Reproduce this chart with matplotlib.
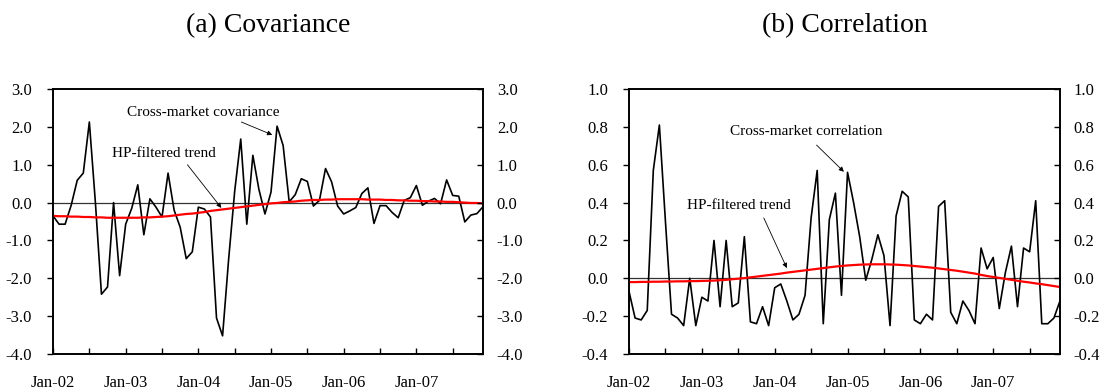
import numpy as np
import matplotlib
matplotlib.use("Agg")
import matplotlib.pyplot as plt

plt.rcParams['font.family'] = ['Liberation Serif', 'DejaVu Serif']
plt.rcParams['axes.unicode_minus'] = False

# 월별 데이터 (Jan-02 ~ Dec-07, 72개월)
months = np.arange(72)
year_labels = ["Jan-02", "Jan-03", "Jan-04", "Jan-05", "Jan-06", "Jan-07"]

covariance = [
    -0.35, -0.57, -0.57, -0.07, 0.59, 0.78, 2.13, 0.00, -2.42, -2.23, 0.00, -1.93,
    -0.57, -0.15, 0.47, -0.85, 0.10, -0.12, -0.38, 0.78, -0.20, -0.65, -1.48, -1.30,
    -0.12, -0.17, -0.38, -3.05, -3.52, -1.50, 0.30, 1.68, -0.57, 1.25, 0.35, -0.30,
    0.28, 2.02, 1.51, 0.02, 0.21, 0.63, 0.56, -0.09, 0.06, 0.90, 0.55, -0.09,
    -0.30, -0.22, -0.13, 0.24, 0.39, -0.55, -0.08, -0.08, -0.26, -0.40, 0.06, 0.13,
    0.45, -0.07, 0.04, 0.11, -0.03, 0.60, 0.19, 0.17, -0.51, -0.33, -0.29, -0.11,
]
cov_trend = [
    -0.35, -0.36, -0.36, -0.37, -0.37, -0.38, -0.38, -0.39, -0.39, -0.40, -0.40, -0.40,
    -0.40, -0.40, -0.40, -0.39, -0.39, -0.38, -0.37, -0.36, -0.34, -0.32, -0.30, -0.29,
    -0.27, -0.25, -0.22, -0.20, -0.18, -0.16, -0.14, -0.12, -0.10, -0.08, -0.06, -0.04,
    -0.02, -0.01, 0.01, 0.02, 0.03, 0.05, 0.06, 0.07, 0.07, 0.08, 0.08, 0.09,
    0.09, 0.09, 0.09, 0.09, 0.08, 0.08, 0.08, 0.07, 0.07, 0.06, 0.06, 0.05,
    0.05, 0.04, 0.04, 0.03, 0.03, 0.02, 0.02, 0.01, 0.00, -0.01, -0.01, -0.02,
]

correlation = [
    -0.07, -0.21, -0.22, -0.17, 0.57, 0.81, 0.30, -0.19, -0.21, -0.25, 0.00, -0.25,
    -0.10, -0.12, 0.20, -0.15, 0.20, -0.15, -0.13, 0.22, -0.23, -0.24, -0.15, -0.25,
    -0.05, -0.03, -0.12, -0.22, -0.19, -0.09, 0.32, 0.57, -0.24, 0.31, 0.45, -0.09,
    0.56, 0.40, 0.22, -0.01, 0.10, 0.23, 0.12, -0.25, 0.33, 0.46, 0.43, -0.22,
    -0.24, -0.19, -0.22, 0.38, 0.41, -0.18, -0.24, -0.12, -0.17, -0.24, 0.16, 0.05,
    0.11, -0.16, 0.03, 0.17, -0.15, 0.16, 0.14, 0.41, -0.24, -0.24, -0.21, -0.12,
]
corr_trend = [
    -0.020, -0.020, -0.019, -0.019, -0.018, -0.018, -0.017, -0.017, -0.016, -0.016, -0.015, -0.015,
    -0.014, -0.013, -0.012, -0.010, -0.008, -0.005, -0.002, 0.001, 0.005, 0.009, 0.013, 0.017,
    0.021, 0.025, 0.030, 0.034, 0.038, 0.042, 0.046, 0.050, 0.054, 0.058, 0.062, 0.065,
    0.068, 0.070, 0.072, 0.073, 0.074, 0.074, 0.074, 0.073, 0.072, 0.070, 0.068, 0.065,
    0.062, 0.059, 0.056, 0.052, 0.048, 0.044, 0.040, 0.035, 0.030, 0.025, 0.018, 0.012,
    0.007, 0.002, -0.003, -0.008, -0.013, -0.018, -0.022, -0.027, -0.031, -0.036, -0.041, -0.046,
]

fig = plt.figure(figsize=(11.09, 3.89), dpi=100)
ax1 = fig.add_axes([0.0478, 0.09, 0.3877, 0.681])
ax2 = fig.add_axes([0.5672, 0.09, 0.3886, 0.681])


def style_axes(ax, yticks, fmt):
    ax.set_xlim(0, 71)
    ax.set_ylim(yticks[0], yticks[-1])
    ax.axhline(0, color='#333333', lw=0.9, zorder=1)
    ax.set_xticks(range(0, 72, 6))
    ax.set_xticklabels([year_labels[i // 2] if i % 2 == 0 else "" for i in range(12)])
    ax.tick_params(axis='x', direction='in', length=4, width=1, pad=15, labelsize=12)
    ax.set_yticks(yticks)
    ax.set_yticklabels([fmt % v for v in yticks])
    ax.tick_params(axis='y', direction='out', length=4, width=1, pad=11, labelsize=12)
    for s in ax.spines.values():
        s.set_linewidth(1.2)
    # 오른쪽 보조축 (같은 눈금)
    axr = ax.twinx()
    axr.set_ylim(ax.get_ylim())
    axr.set_yticks(yticks)
    axr.set_yticklabels([fmt % v for v in yticks])
    axr.tick_params(axis='y', direction='in', length=4, width=1, pad=10, labelsize=12)
    for s in axr.spines.values():
        s.set_linewidth(1.2)


# (a) Covariance
ax1.plot(months, covariance, color='black', lw=1.2, zorder=3)
ax1.plot(months, cov_trend, color='red', lw=1.6, zorder=4)
style_axes(ax1, [-4, -3, -2, -1, 0, 1, 2, 3], '%.1f')

arrow = dict(arrowstyle='-|>', color='black', lw=0.6, mutation_scale=7, shrinkA=0, shrinkB=0)
ax1.text(12.2, 2.37, "Cross-market covariance", fontsize=11, va='center', ha='left')
ax1.annotate('', xy=(36.2, 1.79), xytext=(31.1, 2.13), arrowprops=arrow)
ax1.text(9.7, 1.31, "HP-filtered trend", fontsize=11, va='center', ha='left')
ax1.annotate('', xy=(27.8, -0.14), xytext=(22.2, 1.0), arrowprops=arrow)

# (b) Correlation
ax2.plot(months, correlation, color='black', lw=1.2, zorder=3)
ax2.plot(months, corr_trend, color='red', lw=1.6, zorder=4)
style_axes(ax2, [-0.4, -0.2, 0.0, 0.2, 0.4, 0.6, 0.8, 1.0], '%.1f')

ax2.text(16.6, 0.774, "Cross-market correlation", fontsize=11, va='center', ha='left')
ax2.annotate('', xy=(35.4, 0.563), xytext=(30.9, 0.704), arrowprops=arrow)
ax2.text(9.5, 0.387, "HP-filtered trend", fontsize=11, va='center', ha='left')
ax2.annotate('', xy=(26.0, 0.054), xytext=(22.2, 0.319), arrowprops=arrow)

fig.text(0.2417, 0.9185, "(a) Covariance", fontsize=20, ha='center', va='baseline')
fig.text(0.7615, 0.9185, "(b) Correlation", fontsize=20, ha='center', va='baseline')

fig.savefig("out.png", dpi=100)
